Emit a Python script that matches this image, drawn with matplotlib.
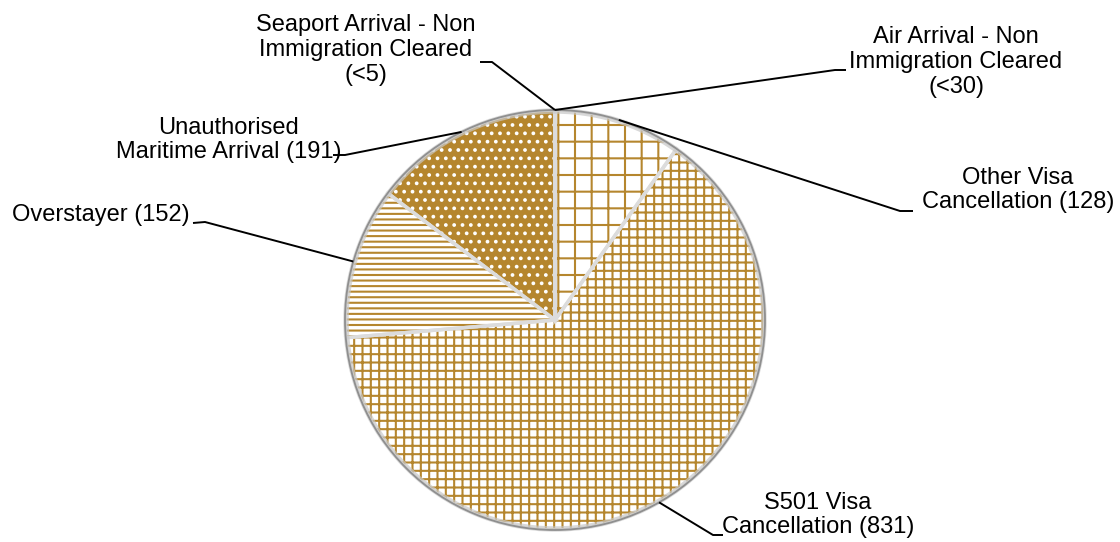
import numpy as np
import matplotlib
matplotlib.use("Agg")
import matplotlib.pyplot as plt
from matplotlib.patches import Circle

plt.rcParams["font.family"] = ["Liberation Sans", "DejaVu Sans"]
plt.rcParams["hatch.linewidth"] = 1.5

# Daten (clockwise from 12 o'clock); the two tiny groups draw as ~0 width
categories = [
    "Air Arrival - Non\nImmigration Cleared\n(<30)",
    "Other Visa\nCancellation (128)",
    "S501 Visa\nCancellation (831)",
    "Overstayer (152)",
    "Unauthorised\nMaritime Arrival (191)",
    "Seaport Arrival - Non\nImmigration Cleared\n(<5)",
]
values = [0, 128, 831, 152, 191, 0]
hatches = ["", "+", "++", "---", "..", ""]

GOLD = "#B5862E"
facecolors = ["white", "white", "white", "white", GOLD, "white"]
hatchcolors = [GOLD, GOLD, GOLD, GOLD, "white", GOLD]

# label layout in pixel coords (x, y from top): text centre, elbow start, elbow end
label_pos = [(956, 62), (1018, 190), (818, 515), (101, 215), (229, 140), (366, 50)]
elbows = [((846, 70), (835, 70)), ((913, 211), (900, 211)), ((723, 535), (713, 535)),
          ((193, 223), (205, 222)), ((333, 155), (345, 155)), ((480, 62), (492, 62))]

W, H = 1120, 542
CX, CY, R = 555, 320, 210

fig = plt.figure(figsize=(W / 100, H / 100), dpi=100)
ax = fig.add_axes([0, 0, 1, 1])

center = (CX, H - CY)
wedges, _ = ax.pie(values, center=center, radius=R, startangle=90,
                   counterclock=False, normalize=True,
                   wedgeprops=dict(linewidth=0))
for w, fc, hc, ht in zip(wedges, facecolors, hatchcolors, hatches):
    w.set_facecolor(fc)
    w.set_edgecolor(hc)
    w.set_hatch(ht)
    w.set_linewidth(0)

# Kanten zwischen den Segmenten
edges, _ = ax.pie(values, center=center, radius=R, startangle=90,
                  counterclock=False, normalize=True,
                  wedgeprops=dict(fill=False, edgecolor="#dcdcdc", linewidth=2.5))
# leichter Schatten-Rand
ax.add_patch(Circle(center, R - 2, fill=False, edgecolor="#c8c8c8", linewidth=2.5, alpha=0.7))
ax.add_patch(Circle(center, R, fill=False, edgecolor="#8f8f8f", linewidth=1.3))

# Beschriftungen mit Fuehrungslinien
for w, lab, (tx, ty), (e0, e1) in zip(wedges, categories, label_pos, elbows):
    ang = np.deg2rad((w.theta1 + w.theta2) / 2)
    ax_ = CX + R * np.cos(ang)
    ay_ = (H - CY) + R * np.sin(ang)
    ax.plot([e0[0], e1[0], ax_], [H - e0[1], H - e1[1], ay_],
            color="black", linewidth=1.4, solid_capstyle="butt")
    ax.text(tx, H - ty, lab, ha="center", va="center", fontsize=17,
            linespacing=1.15, color="black")

ax.set_xlim(0, W)
ax.set_ylim(0, H)
ax.set_aspect("equal")
ax.axis("off")

fig.savefig("out.png", dpi=100)
